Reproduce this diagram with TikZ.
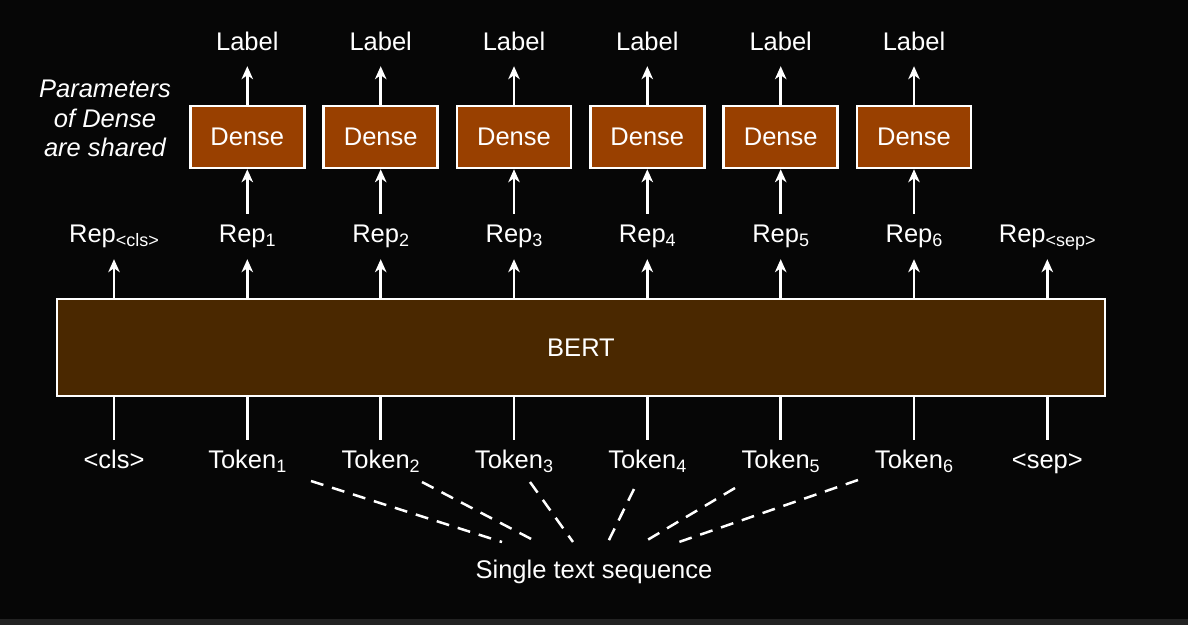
\documentclass[tikz,border=0pt]{standalone}
\usepackage{fontspec}
\setmainfont{Liberation Sans}
\usetikzlibrary{arrows.meta}
\definecolor{bg}{RGB}{6,6,6}
\definecolor{strip}{RGB}{34,34,34}
\definecolor{bertfill}{RGB}{74,40,0}
\definecolor{densefill}{RGB}{153,64,0}
\newcommand{\sbs}[1]{\raisebox{-4.5pt}{\fontsize{18}{18}\selectfont #1}}
\begin{document}
\begin{tikzpicture}[x=1pt,y=-1pt,
 every node/.style={text=white, font=\fontsize{25.5}{30}\selectfont},
 arr/.style={draw=white, line width=2.5pt, -{Stealth[length=13pt,width=11.5pt,inset=4pt]}},
 plain/.style={draw=white, line width=2.5pt},
 dsh/.style={draw=white, line width=2.5pt, dash pattern=on 13pt off 9pt},
 densebox/.style={draw=white, line width=2.5pt, fill=densefill, minimum width=114pt, minimum height=62pt, inner sep=0pt},
 bertbox/.style={draw=white, line width=2.5pt, fill=bertfill, minimum width=1048pt, minimum height=97pt, inner sep=0pt},
 lbl/.style={anchor=base, text height=19pt, text depth=8pt, inner xsep=0pt, inner ysep=9pt},
 toplbl/.style={anchor=base, text height=19pt, text depth=0pt, inner xsep=0pt, inner ysep=16pt}
]
\fill[bg] (0,0) rectangle (1188,625);
\fill[strip] (0,619) rectangle (1188,625);
\useasboundingbox (0,0) rectangle (1188,625);

% BERT
\node[bertbox] (bert) at (581,347.5) {BERT};

% note
\node[align=center, font=\fontsize{25.5}{29.5}\selectfont\itshape] (note) at (105,118.5) {Parameters\\of Dense\\are shared};

% representations
\node[lbl] (rep0) at (114,242) {Rep\sbs{<cls>}};
\node[lbl] (rep7) at (1047.3,242) {Rep\sbs{<sep>}};
\node[lbl] (tok0) at (114,468) {<cls>};
\node[lbl] (tok7) at (1047.3,468) {<sep>};
\draw[arr] (bert.north -| rep0) -- (rep0);
\draw[arr] (bert.north -| rep7) -- (rep7);
\draw[plain] (bert.south -| tok0) -- (tok0);
\draw[plain] (bert.south -| tok7) -- (tok7);

\foreach \i/\x in {1/247.3,2/380.7,3/514,4/647.3,5/780.7,6/914}{
  \node[lbl] (rep\i) at (\x,242) {Rep\sbs{\i}};
  \node[densebox] (d\i) at (\x,137) {Dense};
  \node[toplbl] (l\i) at (\x,50) {Label};
  \node[lbl] (tok\i) at (\x,468) {Token\sbs{\i}};
  \draw[arr] (bert.north -| rep\i) -- (rep\i);
  \draw[arr] (rep\i) -- (d\i);
  \draw[arr] (d\i) -- (l\i);
  \draw[plain] (bert.south -| tok\i) -- (tok\i);
}

% single text sequence
\node[anchor=base] (seq) at (594,578) {Single text sequence};
\coordinate (s1) at (311,481);
\coordinate (s2) at (422,482);
\coordinate (s3) at (530,482);
\coordinate (s4) at (634,489);
\coordinate (s5) at (735,488);
\coordinate (s6) at (858,480);
\coordinate (e1) at (502,542);
\coordinate (e2) at (537,542);
\coordinate (e3) at (573,542);
\coordinate (e4) at (608,542);
\coordinate (e5) at (644,542);
\coordinate (e6) at (679,542);
\foreach \i in {1,...,6}{
  \draw[dsh] (s\i) -- (e\i);
}
\end{tikzpicture}
\end{document}
